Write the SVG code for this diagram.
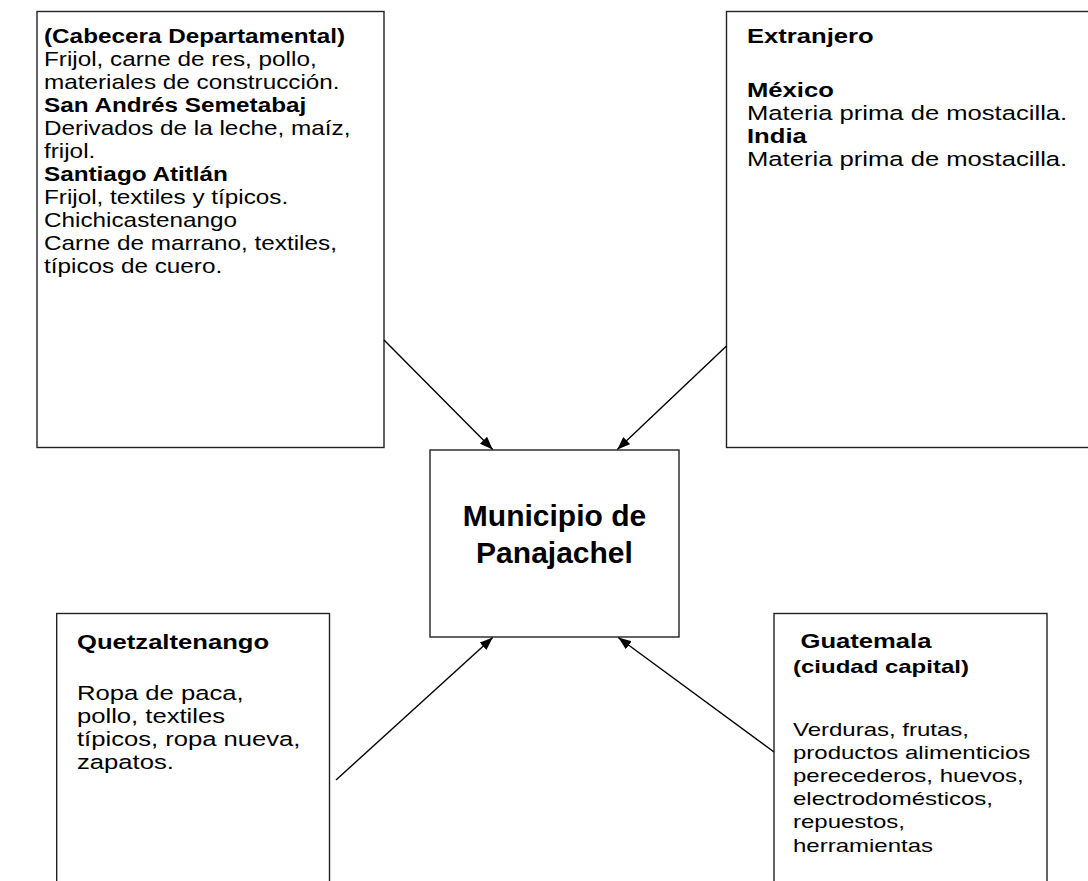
<svg xmlns="http://www.w3.org/2000/svg" width="1088" height="881" viewBox="0 0 1088 881">
<style>
.box{fill:#fff;stroke:#222;stroke-width:1.4}
.t{font-family:"Liberation Sans",Arial,sans-serif;font-size:20.5px;fill:#000}
.s{font-family:"Liberation Sans",Arial,sans-serif;font-size:19.2px;fill:#000}
.b{font-weight:bold}
.c{font-family:"Liberation Sans",Arial,sans-serif;font-size:30px;font-weight:bold;fill:#000;text-anchor:middle}
.con{stroke:#000;stroke-width:1.4;fill:none;marker-end:url(#ah)}
</style>
<defs>
<marker id="ah" markerUnits="userSpaceOnUse" markerWidth="14" markerHeight="11" refX="13" refY="5" orient="auto">
<path d="M0,0 L13,5 L0,10 Z" fill="#000"/>
</marker>
</defs>
<rect width="1088" height="881" fill="#fff"/>
<g id="node-cabecera">
<rect class="box" x="37" y="11.5" width="347" height="436"/>
<g transform="translate(44,0) scale(1.185,1)">
<text class="t b" x="0" y="43">(Cabecera Departamental)</text>
<text class="t" x="0" y="66">Frijol, carne de res, pollo,</text>
<text class="t" x="0" y="89">materiales de construcción.</text>
<text class="t b" x="0" y="112">San Andrés Semetabaj</text>
<text class="t" x="0" y="135">Derivados de la leche, maíz,</text>
<text class="t" x="0" y="158">frijol.</text>
<text class="t b" x="0" y="181">Santiago Atitlán</text>
<text class="t" x="0" y="204">Frijol, textiles y típicos.</text>
<text class="t" x="0" y="227">Chichicastenango</text>
<text class="t" x="0" y="250">Carne de marrano, textiles,</text>
<text class="t" x="0" y="273">típicos de cuero.</text>
</g>
</g>
<g id="node-extranjero">
<rect class="box" x="726.5" y="11.5" width="380" height="436"/>
<g transform="translate(747,0) scale(1.25,1)">
<text class="t b" x="0" y="43">Extranjero</text>
<text class="t b" x="0" y="97">México</text>
<text class="t" x="0" y="120">Materia prima de mostacilla.</text>
<text class="t b" x="0" y="143">India</text>
<text class="t" x="0" y="166">Materia prima de mostacilla.</text>
</g>
</g>
<g id="node-panajachel">
<rect class="box" x="430" y="450" width="249" height="187"/>
<text class="c" x="554.5" y="526">Municipio de</text>
<text class="c" x="554.5" y="563">Panajachel</text>
</g>
<g id="node-quetzaltenango">
<rect class="box" x="56.7" y="613.5" width="272.8" height="300"/>
<g transform="translate(77,0) scale(1.25,1)">
<text class="t b" x="0" y="649">Quetzaltenango</text>
<text class="t" x="0" y="700">Ropa de paca,</text>
<text class="t" x="0" y="723">pollo, textiles</text>
<text class="t" x="0" y="746">típicos, ropa nueva,</text>
<text class="t" x="0" y="769">zapatos.</text>
</g>
</g>
<g id="node-guatemala">
<rect class="box" x="774" y="613.5" width="273" height="300"/>
<g transform="translate(793,0) scale(1.25,1)">
<text class="t b" x="6" y="648">Guatemala</text>
<text class="s b" x="0" y="673">(ciudad capital)</text>
<text class="s" x="0" y="736">Verduras, frutas,</text>
<text class="s" x="0" y="759">productos alimenticios</text>
<text class="s" x="0" y="782">perecederos, huevos,</text>
<text class="s" x="0" y="805">electrodomésticos,</text>
<text class="s" x="0" y="828">repuestos,</text>
<text class="s" x="0" y="852">herramientas</text>
</g>
</g>
<g id="connectors">
<line class="con" x1="384" y1="340" x2="492.7" y2="449.5"/>
<line class="con" x1="726.5" y1="346" x2="617.3" y2="449.5"/>
<line class="con" x1="336" y1="780" x2="492.7" y2="637.5"/>
<line class="con" x1="774" y1="752" x2="618.3" y2="637.5"/>
</g>
</svg>
